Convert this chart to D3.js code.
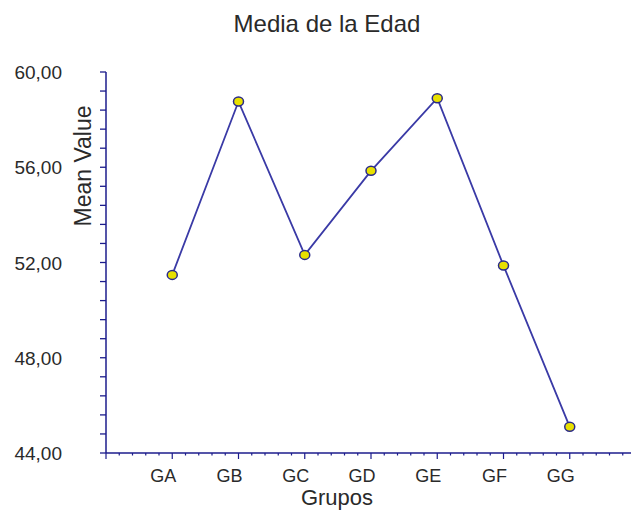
<!DOCTYPE html>
<html>
<head>
<meta charset="utf-8">
<script src="https://cdn.jsdelivr.net/npm/d3@7"></script>
<style>
  body { margin: 0; background: #fff; }
  text { font-family: "Liberation Sans", Arial, sans-serif; }
</style>
</head>
<body>
<svg id="chart" width="631" height="515"></svg>
<script>
// data
const groups = ['GA', 'GB', 'GC', 'GD', 'GE', 'GF', 'GG'];
const meanValues = [51.48, 58.76, 52.32, 55.85, 58.9, 51.87, 45.1];
const yTickLabels = [44, 48, 52, 56, 60];

const svg = d3.select('#chart');
const axisColor = '#1c1c8c';
const textColor = '#2a2a2a';

// scales: category index 1..7, axis runs from 0 to 8
let x = d3.scaleLinear().domain([0, 8]).range([106, 636]);
let y = d3.scaleLinear().domain([44, 60]).range([453, 72]);

// title
svg.append('text')
    .attr('x', 327).attr('y', 32)
    .attr('text-anchor', 'middle')
    .style('font-size', '24px')
    .attr('fill', textColor)
    .text('Media de la Edad');

// y axis: minor ticks every 0.8, labels every 4
let yTicks = d3.range(0, 21).map(i => 44 + i * 0.8);
let yAxisG = svg.append('g');
yAxisG.append('line')
    .attr('x1', 106).attr('x2', 106)
    .attr('y1', y(60)).attr('y2', y(44))
    .attr('stroke', axisColor).attr('stroke-width', 1.5);
yAxisG.selectAll('line.tick')
    .data(yTicks)
    .enter()
    .append('line')
    .attr('class', 'tick')
    .attr('x1', 100).attr('x2', 106)
    .attr('y1', d => y(d)).attr('y2', d => y(d))
    .attr('stroke', axisColor).attr('stroke-width', 1.3);
yAxisG.selectAll('text')
    .data(yTickLabels)
    .enter()
    .append('text')
    .attr('x', 62)
    .attr('y', d => y(d) + 7)
    .attr('text-anchor', 'end')
    .style('font-size', '19px')
    .attr('fill', textColor)
    .text(d => d3.format('.2f')(d).replace('.', ','));

// x axis: major tick per group, 4 minor ticks between
let xAxisG = svg.append('g');
xAxisG.append('line')
    .attr('x1', x(0)).attr('x2', x(8))
    .attr('y1', 453).attr('y2', 453)
    .attr('stroke', axisColor).attr('stroke-width', 1.5);
let xTicks = d3.range(0, 41).map(i => i * 0.2);
xAxisG.selectAll('line.tick')
    .data(xTicks)
    .enter()
    .append('line')
    .attr('class', 'tick')
    .attr('x1', d => x(d)).attr('x2', d => x(d))
    .attr('y1', 453)
    .attr('y2', d => Math.abs(d - Math.round(d)) < 1e-6 ? 459 : 455.5)
    .attr('stroke', axisColor).attr('stroke-width', 1.2);
xAxisG.selectAll('text')
    .data(groups)
    .enter()
    .append('text')
    .attr('x', (d, i) => x(i + 1) - 9)
    .attr('y', 482)
    .attr('text-anchor', 'middle')
    .style('font-size', '18px')
    .attr('fill', textColor)
    .text(d => d);

// axis titles
svg.append('text')
    .attr('x', 337).attr('y', 505)
    .attr('text-anchor', 'middle')
    .style('font-size', '22px')
    .attr('fill', textColor)
    .text('Grupos');
svg.append('text')
    .attr('transform', 'translate(91,166) rotate(-90)')
    .attr('text-anchor', 'middle')
    .style('font-size', '23px')
    .attr('fill', textColor)
    .text('Mean Value');

// line
let line = d3.line()
    .x((d, i) => x(i + 1))
    .y(d => y(d));
svg.append('path')
    .datum(meanValues)
    .attr('d', line)
    .attr('fill', 'none')
    .attr('stroke', '#3a3aa6')
    .attr('stroke-width', 1.8);

// markers
svg.selectAll('ellipse.pt')
    .data(meanValues)
    .enter()
    .append('ellipse')
    .attr('class', 'pt')
    .attr('cx', (d, i) => x(i + 1))
    .attr('cy', d => y(d))
    .attr('rx', 5).attr('ry', 4.5)
    .attr('fill', '#e8e000')
    .attr('stroke', '#2a2a88')
    .attr('stroke-width', 1.5);
</script>
</body>
</html>
